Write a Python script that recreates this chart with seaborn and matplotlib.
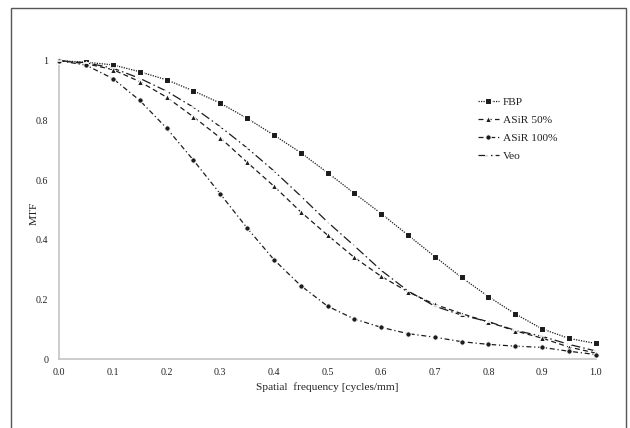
import matplotlib
matplotlib.use("Agg")
import matplotlib.pyplot as plt
from matplotlib.patches import Rectangle
import numpy as np
import pandas as pd
import seaborn as sns

# Spatial frequency samples (cycles/mm)
freq = [0.00, 0.05, 0.10, 0.15, 0.20, 0.25, 0.30, 0.35, 0.40, 0.45, 0.50,
        0.55, 0.60, 0.65, 0.70, 0.75, 0.80, 0.85, 0.90, 0.95, 1.00]

# MTF per reconstruction method
mtf_fbp = [1.000, 0.995, 0.986, 0.963, 0.936, 0.899, 0.858, 0.807, 0.751, 0.692, 0.625,
           0.556, 0.488, 0.416, 0.344, 0.274, 0.210, 0.152, 0.102, 0.070, 0.053]
mtf_asir50 = [1.000, 0.990, 0.970, 0.930, 0.878, 0.812, 0.742, 0.660, 0.580, 0.494, 0.416,
              0.341, 0.278, 0.226, 0.184, 0.153, 0.125, 0.095, 0.071, 0.041, 0.021]
mtf_asir100 = [1.000, 0.985, 0.940, 0.867, 0.774, 0.667, 0.554, 0.440, 0.334, 0.247, 0.178,
               0.135, 0.107, 0.086, 0.074, 0.059, 0.050, 0.044, 0.040, 0.027, 0.016]
mtf_veo = [1.000, 0.993, 0.975, 0.941, 0.898, 0.844, 0.779, 0.708, 0.631, 0.547, 0.460,
           0.380, 0.298, 0.229, 0.178, 0.148, 0.126, 0.097, 0.077, 0.050, 0.028]

series_names = ["FBP", "ASiR 50%", "ASiR 100%", "Veo"]
x_ticks = [0.0, 0.1, 0.2, 0.3, 0.4, 0.5, 0.6, 0.7, 0.8, 0.9, 1.0]
x_tick_labels = ["0.0", "0.1", "0.2", "0.3", "0.4", "0.5", "0.6", "0.7", "0.8", "0.9", "1.0"]
y_ticks = [0, 0.2, 0.4, 0.6, 0.8, 1.0]
y_tick_labels = ["0", "0.2", "0.4", "0.6", "0.8", "1"]

sns.set_style("white")
plt.rcParams["font.family"] = ["Liberation Serif", "DejaVu Serif"]

fig = plt.figure(figsize=(6.30, 4.28), dpi=100)
ax = fig.add_axes([59.3 / 630, 1 - 359.3 / 428, 536.4 / 630, 298.6 / 428])

ink = "#1c1c1c"
styles = {
    "FBP": dict(marker="s", markersize=3.9, linestyle=(0, (1.0, 1.0))),
    "ASiR 50%": dict(marker="^", markersize=3.9, linestyle=(0, (4.0, 2.6))),
    "ASiR 100%": dict(marker="o", markersize=3.9, linestyle=(0, (4.0, 2.2, 1.0, 2.2))),
    "Veo": dict(marker="_", markersize=5.0, markeredgewidth=1.2,
                linestyle=(0, (7.5, 2.5, 1.2, 2.5))),
}
values = {"FBP": mtf_fbp, "ASiR 50%": mtf_asir50, "ASiR 100%": mtf_asir100, "Veo": mtf_veo}

for name in series_names:
    df = pd.DataFrame({"freq": freq, "mtf": values[name]})
    sns.lineplot(data=df, x="freq", y="mtf", ax=ax, color=ink, linewidth=0.9,
                 label=name, clip_on=False, zorder=3, **styles[name])

ax.set_xlim(0, 1.0)
ax.set_ylim(0, 1.0)
ax.set_xticks(x_ticks)
ax.set_xticklabels(x_tick_labels)
ax.set_yticks(y_ticks)
ax.set_yticklabels(y_tick_labels)
ax.tick_params(axis="both", length=0, labelsize=7.2, colors="#222222")
ax.tick_params(axis="x", pad=6)
ax.tick_params(axis="y", pad=8)

for side in ["top", "right"]:
    ax.spines[side].set_visible(False)
for side in ["left", "bottom"]:
    ax.spines[side].set_color("#c8c8c8")
    ax.spines[side].set_linewidth(1.3)

ax.set_xlabel("Spatial  frequency [cycles/mm]", fontsize=8.2, color="#222222", labelpad=4)
ax.set_ylabel("MTF", fontsize=8.2, color="#222222")
ax.yaxis.set_label_coords(-0.038, 0.49)

ax.legend(loc="upper left", bbox_to_anchor=(472 / 630, 1 - 91 / 428),
          bbox_transform=fig.transFigure, frameon=False, fontsize=8.2,
          handlelength=1.85, handletextpad=0.35, labelspacing=0.72, borderpad=0,
          labelcolor="#222222")

# outer border around the chart area
fig.patches.append(Rectangle((11 / 630, -0.05), 615 / 630, 1.05 - 8 / 428,
                             transform=fig.transFigure, fill=False,
                             edgecolor="#555555", linewidth=1.0))

fig.savefig("out.png", dpi=100)
